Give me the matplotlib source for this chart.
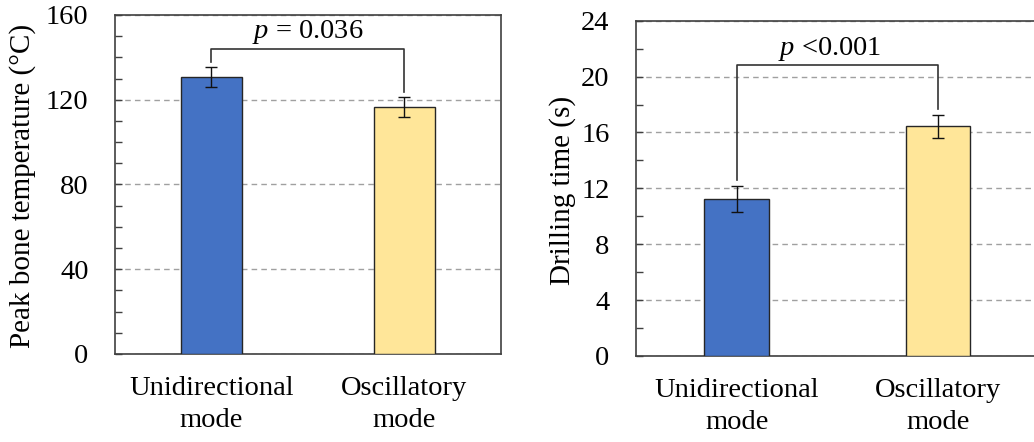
import matplotlib
matplotlib.use("Agg")
import matplotlib.pyplot as plt
from matplotlib.ticker import MultipleLocator

# Data
modes = ["Unidirectional\nmode", "Oscillatory\nmode"]
peak_temp = [130.6, 116.7]
peak_temp_err = [4.7, 4.7]
drill_time = [11.25, 16.45]
drill_time_err = [0.93, 0.82]
p_labels = ["0.036", "<0.001"]

bar_colors = ["#4472C4", "#FFE699"]
edge = "#262626"
spine_col = "#404040"

plt.rcParams["font.family"] = ["Liberation Serif", "DejaVu Serif"]
plt.rcParams["mathtext.fontset"] = "custom"
plt.rcParams["mathtext.rm"] = "Liberation Serif"
plt.rcParams["mathtext.it"] = "Liberation Serif:italic"

FS = 20.5
YL_FS = 21

fig = plt.figure(figsize=(10.34, 4.42), dpi=100)
ax1 = fig.add_axes([0.1112, 0.1991, 0.3733, 0.7670])
ax2 = fig.add_axes([0.6151, 0.1946, 0.3894, 0.7586])


def style(ax, ymax, major, minor, ylabel, lab_x):
    ax.set_xlim(-0.5, 1.5)
    ax.set_ylim(0, ymax)
    ax.yaxis.set_major_locator(MultipleLocator(major))
    ax.yaxis.set_minor_locator(MultipleLocator(minor))
    ax.tick_params(axis="y", which="both", direction="in", length=5,
                   width=1, color=spine_col, pad=19, labelsize=FS)
    ax.tick_params(axis="x", length=0, pad=16, labelsize=FS)
    ax.set_xticks(range(len(modes)))
    ax.set_xticklabels(modes, linespacing=1.35)
    for s in ax.spines.values():
        s.set_color(spine_col)
        s.set_linewidth(1.2)
    ax.set_axisbelow(True)
    ax.yaxis.grid(True, which="major", linestyle=(0, (4, 3)),
                  color="#a0a0a0", linewidth=1)
    ax.set_ylabel(ylabel, fontsize=YL_FS)
    ax.yaxis.set_label_coords(lab_x, 0.495)


def bracket(ax, y_left, y_right, y_top, text, text_x, text_y):
    ax.plot([0, 0, 1, 1], [y_left, y_top, y_top, y_right],
            color="#333333", linewidth=1.2, zorder=5)
    ax.text(text_x, text_y, r"$\mathit{p}$" + text, ha="center",
            va="baseline", fontsize=FS)


# Peak bone temperature
style(ax1, 160, 40, 10, "Peak bone temperature (°C)", -0.205)
ax1.bar(range(2), peak_temp, width=0.32, color=bar_colors,
        edgecolor=edge, linewidth=1, zorder=3)
ax1.errorbar(range(2), peak_temp, yerr=peak_temp_err, fmt="none",
             ecolor="#111111", elinewidth=1, capsize=4, capthick=1, zorder=4)
bracket(ax1, 138, 123.8, 143.8, " = " + p_labels[0], 0.5, 149.3)

# Drilling time
style(ax2, 24, 4, 2, "Drilling time (s)", -0.149)
ax2.bar(range(2), drill_time, width=0.32, color=bar_colors,
        edgecolor=edge, linewidth=1, zorder=3)
ax2.errorbar(range(2), drill_time, yerr=drill_time_err, fmt="none",
             ecolor="#111111", elinewidth=1, capsize=4, capthick=1, zorder=4)
bracket(ax2, 12.6, 17.7, 20.83, " " + p_labels[1], 0.463, 21.55)

fig.savefig("out.png", dpi=100)
